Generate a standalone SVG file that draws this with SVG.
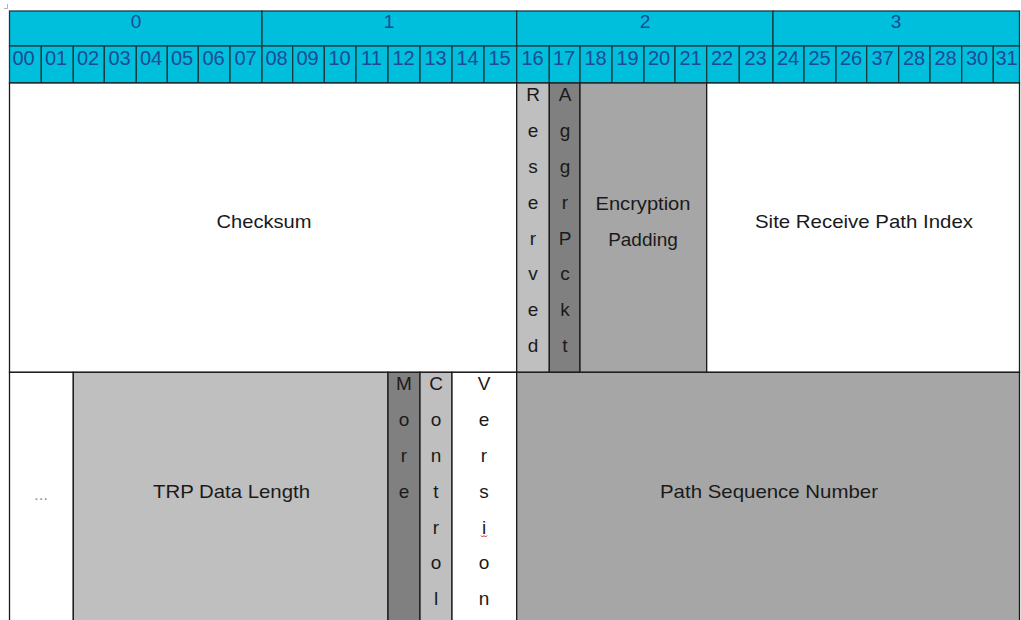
<svg xmlns="http://www.w3.org/2000/svg" width="1021" height="620" viewBox="0 0 1021 620">
  <style>
    .hdr { fill: #00bfdc; stroke: #1b3a40; stroke-width: 1.3; }
    .hnum { font-family: "Liberation Sans", Arial, sans-serif; font-size: 19px; fill: #1c4a96; text-anchor: middle; }
    .bnum { font-size: 20px; }
    .cell { stroke: #1a1a1a; stroke-width: 1.3; }
    .white { fill: #ffffff; }
    .lgray { fill: #bfbfbf; }
    .mgray { fill: #a6a6a6; }
    .dgray { fill: #808080; }
    .lbl { font-family: "Liberation Sans", Arial, sans-serif; font-size: 19px; fill: #1a1a1a; text-anchor: middle; }
    .dots { font-family: "Liberation Sans", Arial, sans-serif; font-size: 17px; fill: #9a9a9a; text-anchor: middle; }
  </style>

  <rect x="0" y="0" width="1021" height="620" fill="#ffffff"/>

  <!-- corner mark -->
  <path d="M7.5 4 V8.5 H4" fill="none" stroke="#a0a0a0" stroke-width="0.8"/>

  <!-- byte header row -->
  <g id="byte-header">
    <rect class="hdr" x="9.5" y="11" width="252.5" height="35"/>
    <rect class="hdr" x="262" y="11" width="254.7" height="35"/>
    <rect class="hdr" x="516.7" y="11" width="256.3" height="35"/>
    <rect class="hdr" x="773" y="11" width="246.5" height="35"/>
    <text class="hnum" x="136" y="28">0</text>
    <text class="hnum" x="389" y="28">1</text>
    <text class="hnum" x="645" y="28">2</text>
    <text class="hnum" x="896" y="28">3</text>
  </g>

  <!-- bit header row -->
  <g id="bit-header">
    <rect class="hdr" x="9.5" y="46" width="31.8" height="37"/>
    <rect class="hdr" x="41.3" y="46" width="32" height="37"/>
    <rect class="hdr" x="73.3" y="46" width="31" height="37"/>
    <rect class="hdr" x="104.3" y="46" width="32" height="37"/>
    <rect class="hdr" x="136.3" y="46" width="31" height="37"/>
    <rect class="hdr" x="167.3" y="46" width="31" height="37"/>
    <rect class="hdr" x="198.3" y="46" width="31.7" height="37"/>
    <rect class="hdr" x="230" y="46" width="32" height="37"/>
    <rect class="hdr" x="262" y="46" width="30.7" height="37"/>
    <rect class="hdr" x="292.7" y="46" width="31.6" height="37"/>
    <rect class="hdr" x="324.3" y="46" width="31.7" height="37"/>
    <rect class="hdr" x="356" y="46" width="32" height="37"/>
    <rect class="hdr" x="388" y="46" width="32" height="37"/>
    <rect class="hdr" x="420" y="46" width="32" height="37"/>
    <rect class="hdr" x="452" y="46" width="32" height="37"/>
    <rect class="hdr" x="484" y="46" width="32.7" height="37"/>
    <rect class="hdr" x="516.7" y="46" width="32.6" height="37"/>
    <rect class="hdr" x="549.3" y="46" width="30.7" height="37"/>
    <rect class="hdr" x="580" y="46" width="32" height="37"/>
    <rect class="hdr" x="612" y="46" width="32" height="37"/>
    <rect class="hdr" x="644" y="46" width="31" height="37"/>
    <rect class="hdr" x="675" y="46" width="31.7" height="37"/>
    <rect class="hdr" x="706.7" y="46" width="32.6" height="37"/>
    <rect class="hdr" x="739.3" y="46" width="33.7" height="37"/>
    <rect class="hdr" x="773" y="46" width="31" height="37"/>
    <rect class="hdr" x="804" y="46" width="32" height="37"/>
    <rect class="hdr" x="836" y="46" width="30.7" height="37"/>
    <rect class="hdr" x="866.7" y="46" width="32" height="37"/>
    <rect class="hdr" x="898.7" y="46" width="31.3" height="37"/>
    <rect class="hdr" x="930" y="46" width="31.7" height="37"/>
    <rect class="hdr" x="961.7" y="46" width="31.6" height="37"/>
    <rect class="hdr" x="993.3" y="46" width="26.2" height="37"/>
    <g class="bnum">
      <text class="hnum bnum" x="23.5" y="65">00</text>
      <text class="hnum bnum" x="56" y="65">01</text>
      <text class="hnum bnum" x="88" y="65">02</text>
      <text class="hnum bnum" x="119.5" y="65">03</text>
      <text class="hnum bnum" x="151" y="65">04</text>
      <text class="hnum bnum" x="182" y="65">05</text>
      <text class="hnum bnum" x="213.5" y="65">06</text>
      <text class="hnum bnum" x="245.5" y="65">07</text>
      <text class="hnum bnum" x="276.5" y="65">08</text>
      <text class="hnum bnum" x="307.5" y="65">09</text>
      <text class="hnum bnum" x="339.5" y="65">10</text>
      <text class="hnum bnum" x="371.5" y="65">11</text>
      <text class="hnum bnum" x="403.5" y="65">12</text>
      <text class="hnum bnum" x="435.5" y="65">13</text>
      <text class="hnum bnum" x="467.5" y="65">14</text>
      <text class="hnum bnum" x="499.5" y="65">15</text>
      <text class="hnum bnum" x="532.5" y="65">16</text>
      <text class="hnum bnum" x="564" y="65">17</text>
      <text class="hnum bnum" x="595.5" y="65">18</text>
      <text class="hnum bnum" x="627.5" y="65">19</text>
      <text class="hnum bnum" x="659" y="65">20</text>
      <text class="hnum bnum" x="690.5" y="65">21</text>
      <text class="hnum bnum" x="722" y="65">22</text>
      <text class="hnum bnum" x="755.5" y="65">23</text>
      <text class="hnum bnum" x="788" y="65">24</text>
      <text class="hnum bnum" x="819.5" y="65">25</text>
      <text class="hnum bnum" x="851" y="65">26</text>
      <text class="hnum bnum" x="882.5" y="65">37</text>
      <text class="hnum bnum" x="914" y="65">28</text>
      <text class="hnum bnum" x="945.5" y="65">28</text>
      <text class="hnum bnum" x="977" y="65">30</text>
      <text class="hnum bnum" x="1006.5" y="65">31</text>
    </g>
  </g>

  <!-- first word: fields -->
  <g id="checksum">
    <rect class="cell white" x="9.5" y="83" width="507.2" height="289.3"/>
    <text class="lbl" x="264" y="228" textLength="95" lengthAdjust="spacingAndGlyphs">Checksum</text>
  </g>

  <g id="reserved">
    <rect class="cell lgray" x="516.7" y="83" width="32.6" height="289.3"/>
    <text class="lbl" x="533" y="101">R</text>
    <text class="lbl" x="533" y="137">e</text>
    <text class="lbl" x="533" y="173">s</text>
    <text class="lbl" x="533" y="209">e</text>
    <text class="lbl" x="533" y="245">r</text>
    <text class="lbl" x="533" y="280">v</text>
    <text class="lbl" x="533" y="316">e</text>
    <text class="lbl" x="533" y="352">d</text>
  </g>

  <g id="aggr-pckt">
    <rect class="cell dgray" x="549.3" y="83" width="30.7" height="289.3"/>
    <text class="lbl" x="565" y="101">A</text>
    <text class="lbl" x="565" y="137">g</text>
    <text class="lbl" x="565" y="173">g</text>
    <text class="lbl" x="565" y="209">r</text>
    <text class="lbl" x="565" y="245">P</text>
    <text class="lbl" x="565" y="280">c</text>
    <text class="lbl" x="565" y="316">k</text>
    <text class="lbl" x="565" y="352">t</text>
  </g>

  <g id="encryption-padding">
    <rect class="cell mgray" x="580" y="83" width="126.7" height="289.3"/>
    <text class="lbl" x="643" y="210" textLength="95" lengthAdjust="spacingAndGlyphs">Encryption</text>
    <text class="lbl" x="643" y="246">Padding</text>
  </g>

  <g id="site-receive-path-index">
    <rect class="cell white" x="706.7" y="83" width="312.8" height="289.3"/>
    <text class="lbl" x="864" y="228" textLength="218" lengthAdjust="spacingAndGlyphs">Site Receive Path Index</text>
  </g>

  <!-- second word: fields -->
  <g id="ellipsis">
    <rect class="cell white" x="9.5" y="372.3" width="63.8" height="260"/>
    <text class="dots" x="41" y="500">...</text>
  </g>

  <g id="trp-data-length">
    <rect class="cell lgray" x="73.3" y="372.3" width="314.7" height="260"/>
    <text class="lbl" x="231.5" y="498" textLength="157" lengthAdjust="spacingAndGlyphs">TRP Data Length</text>
  </g>

  <g id="more">
    <rect class="cell dgray" x="388" y="372.3" width="32" height="260"/>
    <text class="lbl" x="404" y="390">M</text>
    <text class="lbl" x="404" y="426">o</text>
    <text class="lbl" x="404" y="462">r</text>
    <text class="lbl" x="404" y="498">e</text>
  </g>

  <g id="control">
    <rect class="cell lgray" x="420" y="372.3" width="32" height="260"/>
    <text class="lbl" x="436" y="390">C</text>
    <text class="lbl" x="436" y="426">o</text>
    <text class="lbl" x="436" y="462">n</text>
    <text class="lbl" x="436" y="498">t</text>
    <text class="lbl" x="436" y="533.5">r</text>
    <text class="lbl" x="436" y="569">o</text>
    <text class="lbl" x="436" y="605">l</text>
  </g>

  <g id="version">
    <rect class="cell white" x="452" y="372.3" width="64.7" height="260"/>
    <text class="lbl" x="484" y="390">V</text>
    <text class="lbl" x="484" y="426">e</text>
    <text class="lbl" x="484" y="462">r</text>
    <text class="lbl" x="484" y="498">s</text>
    <text class="lbl" x="484" y="533.5">i</text>
    <text class="lbl" x="484" y="569">o</text>
    <text class="lbl" x="484" y="605">n</text>
    <!-- proofing squiggle under the "i" -->
    <path d="M481 535.5 l1.5 1.5 l1.5 -1.5 l1.5 1.5 l1.5 -1.5" fill="none" stroke="#e02020" stroke-width="1"/>
  </g>

  <g id="path-sequence-number">
    <rect class="cell mgray" x="516.7" y="372.3" width="502.8" height="260"/>
    <text class="lbl" x="769" y="498" textLength="218" lengthAdjust="spacingAndGlyphs">Path Sequence Number</text>
  </g>

  <!-- connectors: none in this table layout -->
  <g id="connectors"/>
</svg>
